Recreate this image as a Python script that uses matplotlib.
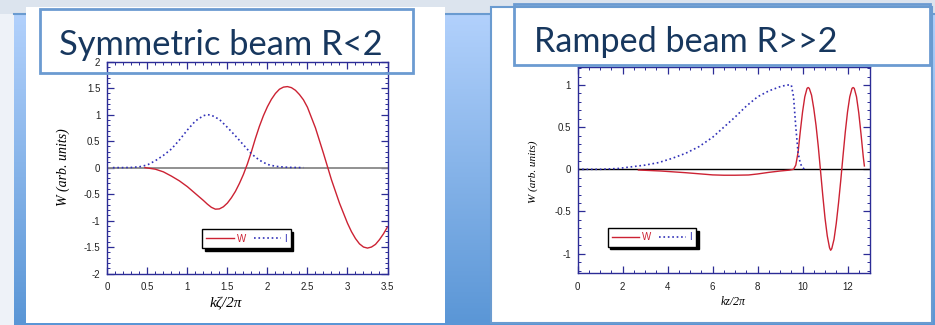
import numpy as np
import matplotlib.pyplot as plt
from matplotlib.colors import LinearSegmentedColormap
from matplotlib.patches import Rectangle
from matplotlib.ticker import MultipleLocator

# ---- left panel: symmetric beam ----
sym_I_x = [0.07, 0.2, 0.3, 0.4, 0.5, 0.6, 0.7, 0.8, 0.9, 1.0, 1.1, 1.2, 1.25, 1.3, 1.4,
           1.5, 1.6, 1.7, 1.8, 1.9, 2.0, 2.1, 2.2, 2.3, 2.45]
sym_I_y = [0, 0, 0.003, 0.015, 0.05, 0.13, 0.23, 0.35, 0.52, 0.71, 0.88, 0.98, 1.0, 0.99, 0.91,
           0.76, 0.6, 0.43, 0.26, 0.14, 0.06, 0.025, 0.01, 0.003, 0]
sym_W_x = [0.47, 0.6, 0.7, 0.8, 0.9, 1.0, 1.1, 1.2, 1.25, 1.3, 1.35, 1.4, 1.45, 1.5, 1.55,
           1.6, 1.65, 1.7, 1.75, 1.8, 1.85, 1.9, 1.95, 2.0, 2.05, 2.1, 2.15, 2.2, 2.25, 2.3,
           2.35, 2.4, 2.45, 2.5, 2.6, 2.7, 2.8, 2.9, 3.0, 3.05, 3.1, 3.15, 3.2, 3.25, 3.3,
           3.35, 3.4, 3.45, 3.5]
sym_W_y = [0, -0.03, -0.08, -0.16, -0.25, -0.36, -0.49, -0.62, -0.69, -0.75, -0.785, -0.78,
           -0.74, -0.67, -0.57, -0.45, -0.30, -0.13, 0.07, 0.30, 0.55, 0.78, 0.98, 1.15, 1.29,
           1.40, 1.48, 1.52, 1.53, 1.51, 1.46, 1.38, 1.28, 1.14, 0.75, 0.27, -0.23, -0.67,
           -1.05, -1.21, -1.34, -1.44, -1.50, -1.52, -1.50, -1.45, -1.36, -1.25, -1.12]

# ---- right panel: ramped beam ----
ramp_I_x = [0, 1, 1.8, 2.4, 3.0, 3.6, 4.2, 4.8, 5.4, 6.0, 6.5, 7.0, 7.5, 8.0, 8.5, 9.0,
            9.3, 9.5, 9.6, 9.7, 9.8, 9.9, 10.0, 10.1]
ramp_I_y = [0, 0, 0.01, 0.03, 0.05, 0.08, 0.13, 0.19, 0.27, 0.38, 0.5, 0.62, 0.75, 0.86,
            0.93, 0.98, 1.0, 1.0, 0.86, 0.5, 0.2, 0.07, 0.02, 0]
ramp_W_x = [2.7, 3.7, 4.8, 6.0, 6.5, 7.0, 7.6, 8.0, 8.5, 9.0, 9.4, 9.6, 9.7, 9.8, 9.9, 10.0,
            10.1, 10.2, 10.25, 10.3, 10.4, 10.5, 10.6, 10.7, 10.8, 10.9, 11.0, 11.1, 11.2,
            11.25, 11.3, 11.4, 11.5, 11.6, 11.7, 11.8, 11.9, 12.0, 12.1, 12.2, 12.25, 12.3,
            12.4, 12.5, 12.6, 12.7, 12.75]
ramp_W_y = [-0.008, -0.02, -0.04, -0.066, -0.07, -0.07, -0.067, -0.055, -0.036, -0.02,
            -0.01, 0.0, 0.05, 0.2, 0.45, 0.68, 0.86, 0.96, 0.97, 0.96, 0.88, 0.72, 0.52, 0.27,
            -0.02, -0.31, -0.58, -0.79, -0.93, -0.96, -0.94, -0.83, -0.64, -0.40, -0.13, 0.16,
            0.44, 0.68, 0.86, 0.96, 0.97, 0.96, 0.86, 0.67, 0.42, 0.15, 0.04]

titles = ['Symmetric beam R<2', 'Ramped beam R>>2']
xlabels = ['kζ/2π', 'kz/2π']
ylabel = 'W (arb. units)'
legend_labels = ['W', 'I']

red = '#cc2233'
blue = '#3030b8'
frame = '#2c2c96'
navy = '#17375e'
boxblue = '#6b9bd1'

W, H = 935, 325
fig = plt.figure(figsize=(W / 100, H / 100), dpi=100, facecolor='#eef2f8')

# slide background (pixel coordinates)
bg = fig.add_axes([0, 0, 1, 1], zorder=0)
bg.set_xlim(0, W)
bg.set_ylim(H, 0)
bg.axis('off')
bg.add_patch(Rectangle((0, 0), W, 14, color='#dce4ee', lw=0))
grad = LinearSegmentedColormap.from_list('g', ['#b2d1fc', '#5a96d6'])
bg.imshow(np.linspace(0, 1, 200).reshape(-1, 1), cmap=grad, aspect='auto',
          extent=[14, W, H, 14], zorder=1)
bg.plot([14, W], [14, 14], color='#6a9bd0', lw=1.5, zorder=2)
bg.add_patch(Rectangle((26, 7), 419, 316, facecolor='white', lw=0, zorder=3))
bg.add_patch(Rectangle((491, 7), 441, 316, facecolor='white', edgecolor='#6a9bd0',
                       lw=1.5, zorder=3))
bg.set_xlim(0, W)
bg.set_ylim(H, 0)


def style(ax):
    ax.tick_params(which='both', direction='in', top=True, right=True, color=frame,
                   labelsize=7, labelcolor='#222222')
    ax.tick_params(which='major', length=5, width=0.9)
    ax.tick_params(which='minor', length=2.5, width=0.7)
    ax.tick_params(axis='y', pad=5)
    ax.tick_params(axis='x', pad=6)
    for s in ax.spines.values():
        s.set_color(frame)
        s.set_linewidth(1.0)
    for t in ax.get_xticklabels() + ax.get_yticklabels():
        t.set_fontfamily('Liberation Sans')


serif = ['Liberation Serif', 'DejaVu Serif']

# left axes
ax1 = fig.add_axes([107.3 / W, 1 - 273.5 / H, 280.2 / W, 211.8 / H], zorder=1)
ax1.axhline(0, color='#888888', lw=1.3)
ax1.plot(sym_W_x, sym_W_y, color=red, lw=1.0, label=legend_labels[0])
ax1.plot(sym_I_x, sym_I_y, color=blue, lw=1.2, ls=':', label=legend_labels[1])
ax1.set_xlim(0, 3.5)
ax1.set_ylim(-2, 2)
ax1.xaxis.set_major_locator(MultipleLocator(0.5))
ax1.xaxis.set_minor_locator(MultipleLocator(0.1))
ax1.yaxis.set_major_locator(MultipleLocator(0.5))
ax1.yaxis.set_minor_locator(MultipleLocator(0.1))
ax1.set_xticks(np.arange(0, 3.51, 0.5))
ax1.set_xticklabels(['0', '0.5', '1', '1.5', '2', '2.5', '3', '3.5'])
ax1.set_yticks(np.arange(-2, 2.01, 0.5))
ax1.set_yticklabels(['-2', '-1.5', '-1', '-0.5', '0', '0.5', '1', '1.5', '2'])
style(ax1)
ax1.set_xlabel(xlabels[0], fontsize=11, style='italic', family=serif, va='center')
ax1.xaxis.set_label_coords(0.4226, -0.139)
ax1.set_ylabel(ylabel, fontsize=10, style='italic', family=serif, va='center')
ax1.yaxis.set_label_coords(-0.158, 0.504)

# right axes
ax2 = fig.add_axes([577.7 / W, 1 - 273.3 / H, 292.3 / W, 206.6 / H], zorder=1)
ax2.axhline(0, color='black', lw=1.0)
ax2.plot(ramp_W_x, ramp_W_y, color=red, lw=1.0, label=legend_labels[0])
ax2.plot(ramp_I_x, ramp_I_y, color=blue, lw=1.2, ls=':', label=legend_labels[1])
ax2.set_xlim(0, 13)
ax2.set_ylim(-1.233, 1.217)
ax2.xaxis.set_major_locator(MultipleLocator(2))
ax2.xaxis.set_minor_locator(MultipleLocator(0.5))
ax2.yaxis.set_major_locator(MultipleLocator(0.5))
ax2.yaxis.set_minor_locator(MultipleLocator(0.1))
ax2.set_xticks(np.arange(0, 12.1, 2))
ax2.set_xticklabels(['0', '2', '4', '6', '8', '10', '12'])
ax2.set_yticks([-1, -0.5, 0, 0.5, 1])
ax2.set_yticklabels(['-1', '-0.5', '0', '0.5', '1'])
style(ax2)
ax2.set_xlabel(xlabels[1], fontsize=8.5, style='italic', family=serif, va='center')
ax2.xaxis.set_label_coords(0.533, -0.137)
ax2.set_ylabel(ylabel, fontsize=8, style='italic', family=serif, va='center')
ax2.yaxis.set_label_coords(-0.153, 0.49)

# legends
for ax, (lx, ly) in [(ax1, (202, 248)), (ax2, (607.7, 246.7))]:
    leg = ax.legend(loc='lower left', bbox_to_anchor=(lx / W, 1 - ly / H),
                    bbox_transform=fig.transFigure, ncol=2,
                    prop={'family': 'Liberation Sans', 'size': 7},
                    fancybox=False, framealpha=1, edgecolor='black',
                    shadow={'color': 'black', 'alpha': 1}, borderaxespad=0,
                    handlelength=2.8, handletextpad=0.3, columnspacing=0.8,
                    borderpad=0.45)
    leg.get_frame().set_linewidth(1.0)
    for t, c in zip(leg.get_texts(), [red, blue]):
        t.set_color(c)

# title boxes on top
top = fig.add_axes([0, 0, 1, 1], zorder=5)
top.set_xlim(0, W)
top.set_ylim(H, 0)
top.axis('off')
top.patch.set_alpha(0)
top.add_patch(Rectangle((39.5, 8.5), 373.5, 64.5, fill=False, edgecolor=boxblue, lw=2))
top.add_patch(Rectangle((513.5, 3.5), 416.5, 61.5, fill=False, edgecolor=boxblue, lw=2))
top.text(59, 55, titles[0], fontsize=24.8, family='Lato', color=navy, va='baseline')
top.text(534, 51.7, titles[1], fontsize=24.6, family='Lato', color=navy, va='baseline')

fig.savefig('out.png', dpi=100, facecolor=fig.get_facecolor())
